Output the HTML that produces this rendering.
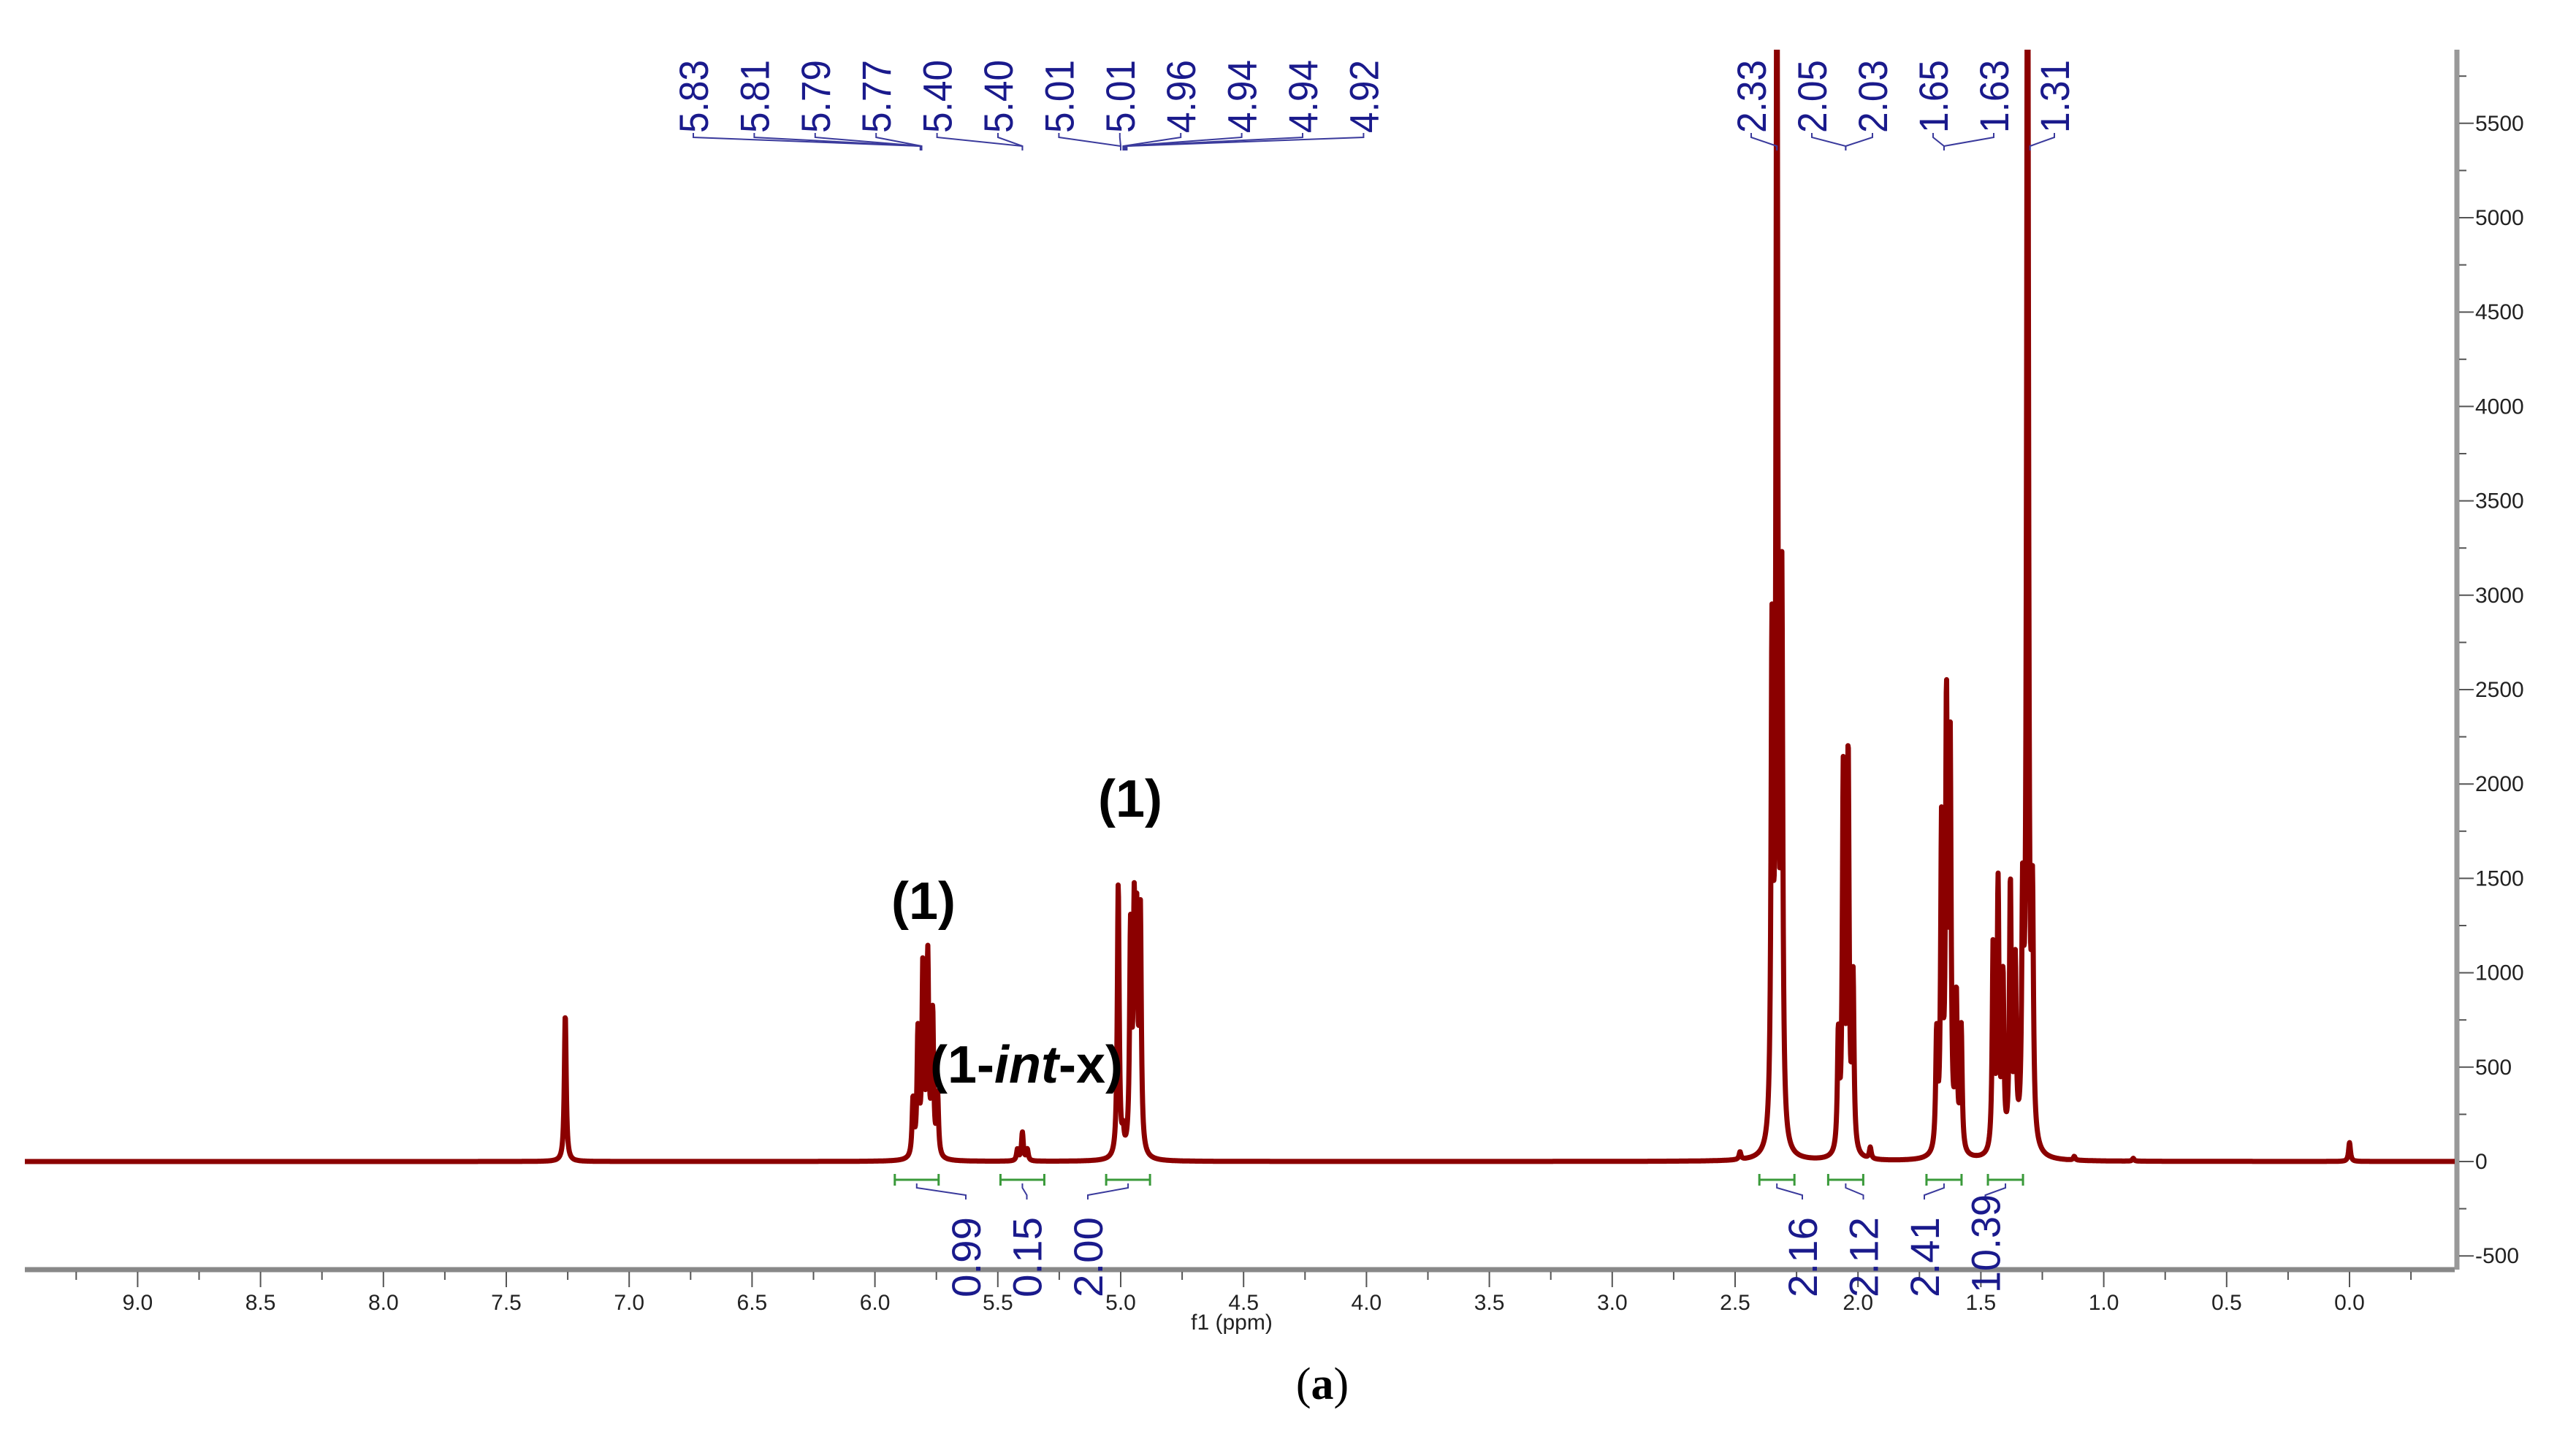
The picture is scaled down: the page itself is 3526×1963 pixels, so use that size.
<!DOCTYPE html>
<html><head><meta charset="utf-8"><style>
html,body{margin:0;padding:0;background:#fff;}
svg{display:block;}
</style></head><body>
<svg id="chart" width="3526" height="1963" viewBox="0 0 3526 1963" xmlns="http://www.w3.org/2000/svg" font-family="Liberation Sans, sans-serif">
<rect width="3526" height="1963" fill="#fff"/>
<defs><clipPath id="plotclip"><rect x="34" y="68" width="3326" height="1670"/></clipPath></defs>
<g id="xaxis"></g>
<g id="yaxis"></g>
<g id="spec" clip-path="url(#plotclip)"></g>
<g id="peaklabels"></g>
<g id="integrals"></g>
<text x="1686" y="1820" font-size="30" text-anchor="middle" fill="#222">f1 (ppm)</text>
<text x="1810" y="1915" font-size="62" text-anchor="middle" font-family="Liberation Serif, serif" fill="#000">(<tspan font-weight="bold">a</tspan>)</text>
<text x="1264" y="1258" font-size="72" font-weight="bold" text-anchor="middle" fill="#000">(1)</text>
<text x="1547" y="1118" font-size="72" font-weight="bold" text-anchor="middle" fill="#000">(1)</text>
<text x="1405" y="1482" font-size="72" font-weight="bold" text-anchor="middle" fill="#000">(1-<tspan font-style="italic">int</tspan>-x)</text>
</svg>
<script>
const xTicks=[9.0,8.5,8.0,7.5,7.0,6.5,6.0,5.5,5.0,4.5,4.0,3.5,3.0,2.5,2.0,1.5,1.0,0.5,0.0];
const yTicks=[5500,5000,4500,4000,3500,3000,2500,2000,1500,1000,500,0,-500];
const peakPpm=[7.26,5.845,5.825,5.805,5.785,5.765,5.745,5.40,5.38,5.42,5.01,4.99,4.96,4.945,4.935,4.92,2.48,2.35,2.33,2.31,2.08,2.06,2.04,2.02,1.95,1.68,1.66,1.64,1.625,1.60,1.58,1.45,1.43,1.41,1.38,1.36,1.33,1.31,1.29,1.12,0.88,0.0];
const peakHeight=[780,300,650,1000,1050,750,320,150,60,60,1450,100,1150,1150,1100,1250,40,2600,6500,2900,600,2000,2100,900,60,600,1700,2300,2100,800,650,1100,1400,900,1400,950,1200,7000,1200,20,15,100];
const peakLabels=["5.83","5.81","5.79","5.77","5.40","5.40","5.01","5.01","4.96","4.94","4.94","4.92"];
const peakLabels2=["2.33","2.05","2.03","1.65","1.63","1.31"];
const integralValues=["0.99","0.15","2.00"];
const integralValues2=["2.16","2.12","2.41","10.39"];
const integralPpm=[5.83,5.40,4.97];
const integralPpm2=[2.33,2.05,1.65,1.40];

const NS="http://www.w3.org/2000/svg";
const X=p=>3216-336.4*p;
const P=x=>(3216-x)/336.4;
const Y=v=>1590-0.2584*v;
function mk(tag,attrs,parent){const e=document.createElementNS(NS,tag);for(const k in attrs)e.setAttribute(k,attrs[k]);parent.appendChild(e);return e;}

const xa=document.getElementById('xaxis');
mk('line',{x1:34,y1:1738,x2:3360,y2:1738,stroke:'#888','stroke-width':7},xa);
for(let p=9.25;p>=-0.25;p-=0.25){
  const major=Math.abs(p*2-Math.round(p*2))<1e-6;
  mk('line',{x1:X(p),y1:1741,x2:X(p),y2:major?1762:1752,stroke:'#555','stroke-width':2},xa);
}
xTicks.forEach(t=>{
  const e=mk('text',{x:X(t),y:1793,'font-size':30,'text-anchor':'middle',fill:'#222'},xa);
  e.textContent=t.toFixed(1);
  
  
});
const ya=document.getElementById('yaxis');
mk('line',{x1:3363,y1:68,x2:3363,y2:1738,stroke:'#999','stroke-width':7},ya);
for(let v=5750;v>=-500;v-=250){
  const major=v%500===0;
  mk('line',{x1:3366,y1:Y(v),x2:major?3386:3376,y2:Y(v),stroke:'#555','stroke-width':2},ya);
}
yTicks.forEach(t=>{
  const e=mk('text',{x:3388,y:Y(t)+10,'font-size':30,fill:'#222'},ya);
  e.textContent=String(t);
  
  
});
const sp=document.getElementById('spec');
const w=0.0045;
let d='';
for(let x=34;x<=3360;x+=0.5){
  const p=P(x);let s=0;
  for(let i=0;i<peakPpm.length;i++){const u=(p-peakPpm[i])/w;s+=peakHeight[i]/(1+u*u);}
  d+=(x===34?'M':'L')+x.toFixed(1)+' '+Y(s).toFixed(1);
}
const path=mk('path',{d:d,fill:'none',stroke:'#8b0000','stroke-width':7,'stroke-linejoin':'round'},sp);



const pl=document.getElementById('peaklabels');
function labelGroup(labels,x0,dx,targets){
  labels.forEach((t,i)=>{
    const x=x0+dx*i;
    const e=mk('text',{transform:`translate(${x+20},182) rotate(-90)`,'font-size':56,fill:'#1a1a8c',textLength:100,lengthAdjust:'spacingAndGlyphs'},pl);
    e.textContent=t;
    
    
    const tx=X(targets[i]);
    mk('path',{d:`M${x} 182 L${x} 188 L${tx} 200 L${tx} 206`,fill:'none',stroke:'#3a3a9c','stroke-width':2},pl);
  });
}
labelGroup(peakLabels,949,83.4,[5.815,5.815,5.81,5.81,5.40,5.40,5.00,5.00,4.99,4.985,4.98,4.975]);
labelGroup(peakLabels2,2397,83,[2.33,2.05,2.05,1.65,1.65,1.30]);

const ig=document.getElementById('integrals');
function intGroup(vals,x0,dx,ppms,half){
  vals.forEach((t,i)=>{
    const x=x0+dx*i, cx=X(ppms[i]);
    mk('path',{d:`M${cx-half} 1615 L${cx+half} 1615 M${cx-half} 1607 L${cx-half} 1623 M${cx+half} 1607 L${cx+half} 1623`,stroke:'#3a9a3a','stroke-width':3,fill:'none'},ig);
    mk('path',{d:`M${cx} 1620 L${cx} 1626 L${x} 1636 L${x} 1642`,stroke:'#3a3a9c','stroke-width':2,fill:'none'},ig);
    const e=mk('text',{transform:`translate(${x+20},${t.length>4?1770:1776}) rotate(-90)`,'font-size':56,fill:'#1a1a8c',textLength:t.length>4?135:110,lengthAdjust:'spacingAndGlyphs'},ig);
    e.textContent=t;
    
    
  });
}
intGroup(integralValues,1322,83.5,integralPpm,30);
intGroup(integralValues2,2467,83.5,integralPpm2,24);
</script>
</body></html>
